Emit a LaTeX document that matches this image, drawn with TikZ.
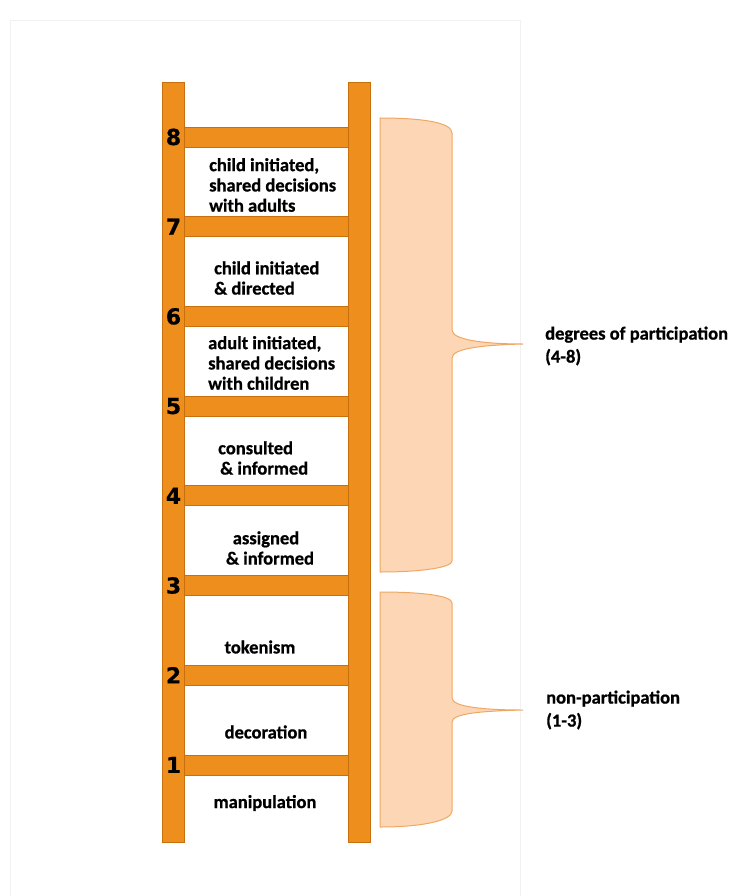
\documentclass[tikz,border=0pt]{standalone}
\usepackage{fontspec}
\setmainfont{Carlito}[BoldFeatures={FakeBold=0.8}]
\newfontfamily\numfont{DejaVu Sans}[BoldFeatures={FakeBold=0.6}]
\definecolor{railfill}{HTML}{EE8E1C}
\definecolor{raildraw}{HTML}{C8700E}
\definecolor{bracefill}{HTML}{FDD6B6}
\definecolor{bracedraw}{HTML}{EFA863}
\definecolor{framecol}{HTML}{F2F2F2}
\tikzset{
  rail/.style={fill=railfill, draw=raildraw, line width=0.8pt},
  rungbar/.style={fill=railfill, draw=raildraw, line width=0.8pt},
  bracebox/.style={fill=bracefill, draw=bracedraw, line width=1pt},
  steptext/.style={font=\fontsize{18.5}{20.3}\selectfont\bfseries, inner sep=0pt, text=black},
  sidetext/.style={font=\fontsize{18.5}{23}\selectfont\bfseries, inner sep=0pt, align=left, anchor=west, text=black},
  numlabel/.style={font=\numfont\bfseries\fontsize{22}{22}\selectfont, inner sep=0pt, text=black}
}
\begin{document}
\begin{tikzpicture}[x=1pt,y=-1pt]
\useasboundingbox (0,0) rectangle (735,896);
% faint frame
\draw[framecol, line width=1pt] (10,896) -- (10,21) -- (520,21) -- (520,896);
% rungs
\foreach \n in {1,...,8}{
  \pgfmathsetmacro{\ytop}{127+(8-\n)*89.7}
  \draw[rungbar] (184,\ytop) rectangle (348,\ytop+20);
}
% rails
\draw[rail] (162,82) rectangle (184,842);
\draw[rail] (348,82) rectangle (370,842);
% numbers
\foreach \n in {1,...,8}{
  \pgfmathsetmacro{\yc}{137+(8-\n)*89.7}
  \node[numlabel] (n\n) at (173.5,\yc) {\n};
}
% step texts
\node[steptext, align=left, anchor=west] (s8) at (209,185) {child initiated,\\shared decisions\\with adults};
\node[steptext, align=left, anchor=west] (s7) at (214,278) {child initiated\\\& directed};
\node[steptext, align=left, anchor=west] (s6) at (208,363) {adult initiated,\\shared decisions\\with children};
\node[steptext, align=left, anchor=west] (s5) at (218,458) {consulted\\\hspace*{2pt}\& informed};
\node[steptext, align=center] (s4) at (266,548) {assigned\\\hspace*{8pt}\& informed};
\node[steptext] (s3) at (260,647) {tokenism};
\node[steptext] (s2) at (266,732) {decoration};
\node[steptext] (s1) at (265,803) {manipulation};
% braces
\path[bracebox] (380,118) .. controls (425,118) and (452,123) .. (452,133)
  -- (452,330) .. controls (452,340) and (485,344) .. (523,344)
  .. controls (485,345) and (452,348) .. (452,358)
  -- (452,561) .. controls (452,567) and (425,572) .. (380,572) -- cycle;
\path[bracebox] (380,592) .. controls (425,592) and (452,596) .. (452,603)
  -- (452,698) .. controls (452,707) and (485,710) .. (523,710)
  .. controls (485,711) and (452,713) .. (452,722)
  -- (452,811) .. controls (452,820) and (425,827) .. (380,827) -- cycle;
% side labels
\node[sidetext] (up) at (545,346) {degrees of participation\\(4-8)};
\node[sidetext] (lo) at (546,710) {non-participation\\(1-3)};
\end{tikzpicture}
\end{document}
